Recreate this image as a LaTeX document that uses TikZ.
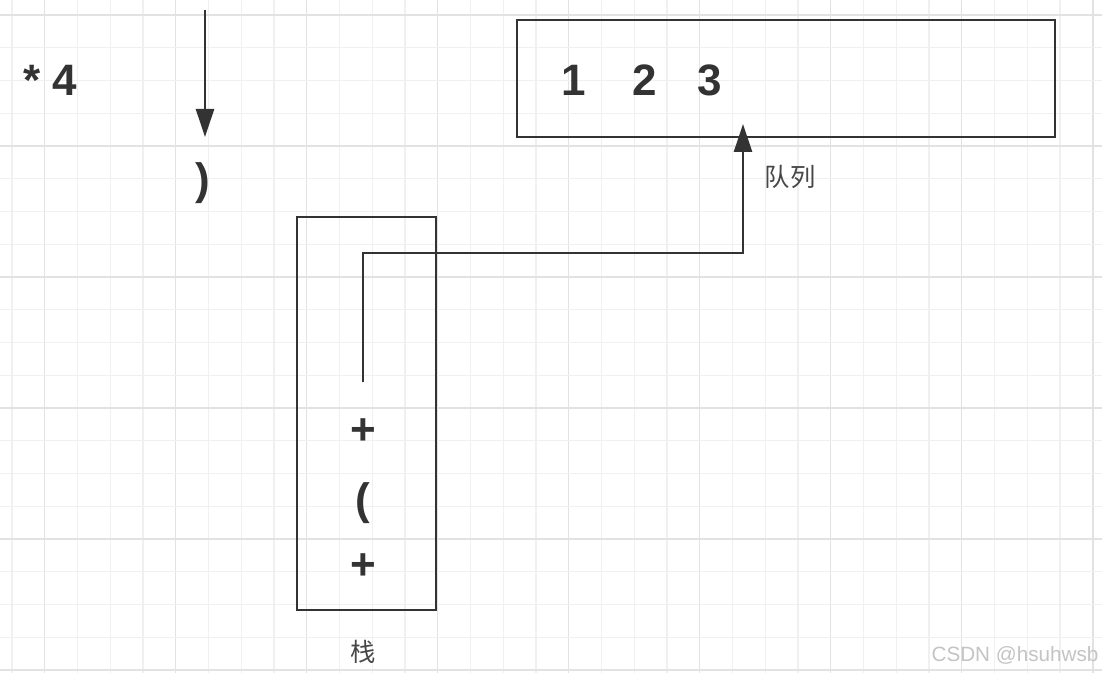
\documentclass[tikz,border=0pt]{standalone}
\usepackage{fontspec}
\setmainfont{Liberation Sans}
\newfontfamily\cjk{Noto Sans CJK SC}
\usetikzlibrary{arrows.meta}
\definecolor{ink}{HTML}{333333}
\definecolor{gridmin}{HTML}{F0F0F0}
\definecolor{gridmaj}{HTML}{E2E2E2}
\definecolor{wmark}{HTML}{C4C4C4}
\tikzset{
  box/.style   = {rectangle, draw=ink, line width=1.9pt, inner sep=0pt},
  sym/.style   = {font=\fontsize{33}{40}\selectfont\bfseries, text=ink, inner sep=0pt},
  lab/.style   = {font=\cjk\fontsize{19}{22}\selectfont, text=ink!90, inner sep=0pt},
  edge/.style  = {-{Triangle[length=21pt, width=13.5pt]}, draw=ink, line width=1.9pt},
  gminor/.style = {draw=gridmin, line width=0.9pt},
  gmajor/.style = {draw=gridmaj, line width=1.1pt},
}

\begin{document}
\begin{tikzpicture}[x=0.75pt, y=-0.75pt]

  \useasboundingbox (0,0) rectangle (1102,673);
  \fill[white] (0,0) rectangle (1102,673);

  % background grid
  \foreach \i in {0,...,33} {
    \pgfmathtruncatemacro{\m}{mod(\i,4)==1}
    \ifnum\m=1 \def\gs{gmajor}\else \def\gs{gminor}\fi
    \draw[\gs] ({12+32.75*\i},0) -- ({12+32.75*\i},673);
  }
  \foreach \j in {0,...,20} {
    \pgfmathtruncatemacro{\m}{mod(\j,4)==0}
    \ifnum\m=1 \def\gs{gmajor}\else \def\gs{gminor}\fi
    \draw[\gs] (0,{15+32.75*\j}) -- (1102,{15+32.75*\j});
  }

  % incoming token
  \node[sym]  (rest) at (50,80)   {* 4};
  \coordinate (feed) at (205,10);
  \coordinate (next) at (205,137);
  \node[sym]  (rp)   at (203,183) {)};
  \draw[edge] (feed) -- (next);

  % queue
  \node[box, minimum width=403.5pt, minimum height=87.75pt] (q) at (786,78.5) {};
  \node[sym] (n1) at (574,80) {1};
  \node[sym] (n2) at (645,80) {2};
  \node[sym] (n3) at (710,80) {3};
  \node[lab] (ql) at (790,177) {队列};

  % stack
  \node[box, minimum width=104.25pt, minimum height=294.75pt] (st) at (366.5,413.5) {};
  \node[sym] (s1) at (363,432) {+};
  \node[sym] (s2) at (363,503) {(};
  \node[sym] (s3) at (363,567) {+};
  \node[lab] (sl) at (363,652) {栈};

  % pop to queue
  \coordinate (pop)  at (363,382);
  \coordinate (bend) at (363,253);
  \coordinate (qin)  at (743,124);
  \draw[edge] (pop) -- (bend) -| (qin);

  \node[font=\fontsize{15.5}{18}\selectfont, text=wmark, inner sep=0pt] (wm) at (1015,655) {CSDN @hsuhwsb};

\end{tikzpicture}
\end{document}
